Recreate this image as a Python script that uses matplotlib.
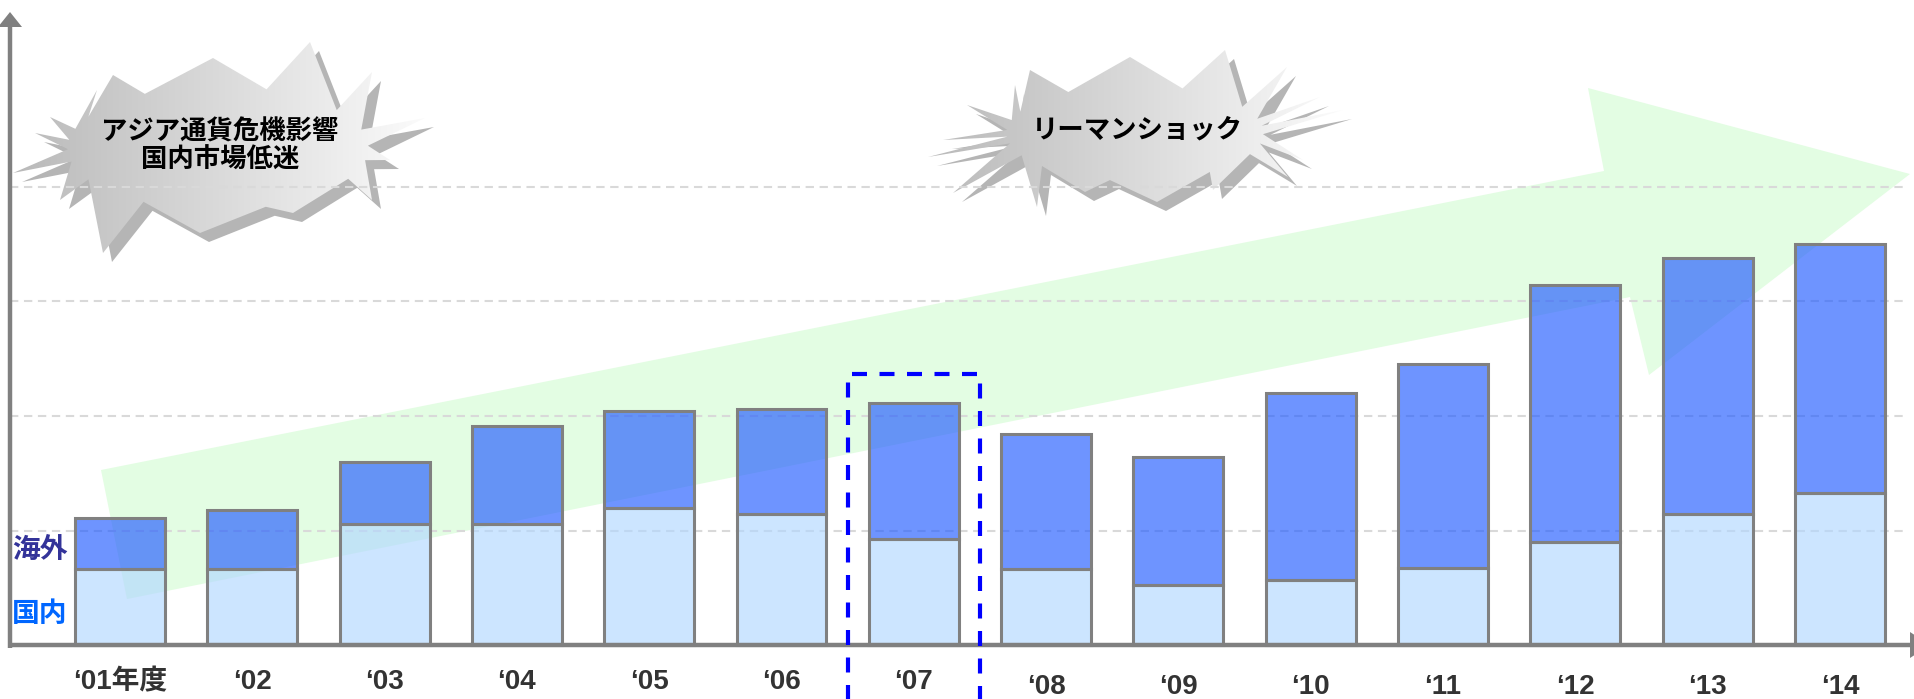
import numpy as np
import matplotlib.pyplot as plt
import matplotlib.colors as mcolors
from matplotlib.patches import Polygon
from matplotlib.colors import LinearSegmentedColormap

# データ（目盛1つ = 1単位）
years = ["‘01年度", "‘02", "‘03", "‘04", "‘05", "‘06", "‘07",
         "‘08", "‘09", "‘10", "‘11", "‘12", "‘13", "‘14"]
domestic = [0.66, 0.66, 1.06, 1.06, 1.20, 1.14, 0.93,
            0.66, 0.52, 0.57, 0.67, 0.90, 1.14, 1.33]
total = [1.11, 1.18, 1.60, 1.91, 2.04, 2.06, 2.11,
         1.84, 1.64, 2.20, 2.45, 3.14, 3.38, 3.50]
overseas = [t - d for t, d in zip(total, domestic)]
highlight = 6   # '07 を点線で囲む

# 画面上のレイアウト（ピクセル）
W, H = 1915, 699
X0, PX = 120, 132.3     # 1本目の中心と間隔
Y0, PY = 645, 114.5     # 軸の位置と1単位の高さ


def d(px, py):
    return (px - X0) / PX, (Y0 - py) / PY


def burst(tips, cx, cy, a, b):
    tips = sorted(tips, key=lambda p: np.arctan2(p[1] - cy, p[0] - cx))
    pts = []
    for k in range(len(tips)):
        p, q = tips[k], tips[(k + 1) % len(tips)]
        t1 = np.arctan2(p[1] - cy, p[0] - cx)
        t2 = np.arctan2(q[1] - cy, q[0] - cx)
        if t2 < t1:
            t2 += 2 * np.pi
        tm = (t1 + t2) / 2
        pts.append(d(*p))
        pts.append(d(cx + a * np.cos(tm), cy + b * np.sin(tm)))
    return pts


fig = plt.figure(figsize=(W / 100, H / 100), dpi=100)
ax = fig.add_axes([0, 0, 1, 1])
ax.set_axis_off()
xl = (d(0, 0)[0], d(W, 0)[0])
yl = (d(0, H)[1], d(0, 0)[1])

cjk = ['Noto Sans CJK JP', 'DejaVu Sans']
gray_cmap = LinearSegmentedColormap.from_list('g', ['#b9b9b9', '#fbfbfb'])

# 爆発マーク
bursts = [
    dict(tips=[(113, 75), (213, 58), (310, 42), (372, 72), (425, 118), (390, 160),
               (372, 200), (293, 213), (200, 233), (103, 253), (60, 200), (13, 173),
               (35, 133), (50, 117), (97, 90)],
         c=(218, 148), ab=(150, 62),
         text="アジア通貨危機影響\n国内市場低迷", tpos=(220, 146)),
    dict(tips=[(1015, 85), (1030, 70), (1130, 57), (1225, 50), (1287, 67), (1320, 97),
               (1343, 110), (1303, 160), (1288, 177), (1213, 190), (1157, 202),
               (1085, 192), (1037, 207), (953, 193), (928, 157), (943, 140), (967, 105)],
         c=(1135, 133), ab=(128, 48),
         text="リーマンショック", tpos=(1137, 130)),
]
for b in bursts:
    cx, cy = b['c']
    sh = [(x + 9, y + 9) for x, y in b['tips']]
    ax.add_patch(Polygon(burst(sh, cx + 9, cy + 9, *b['ab']), closed=True,
                         facecolor='#b5b5b5', edgecolor='none', zorder=2))
    poly = Polygon(burst(b['tips'], cx, cy, *b['ab']), closed=True,
                   facecolor='none', edgecolor='none', zorder=2)
    ax.add_patch(poly)
    xs = [p[0] for p in b['tips']]
    ys = [p[1] for p in b['tips']]
    ex0, ey0 = d(min(xs), max(ys))
    ex1, ey1 = d(max(xs), min(ys))
    im = ax.imshow(np.linspace(0, 1, 256).reshape(1, -1), cmap=gray_cmap,
                   extent=[ex0, ex1, ey0, ey1], aspect='auto', zorder=2.1)
    im.set_clip_path(poly)
    ax.text(*d(*b['tpos']), b['text'], ha='center', va='center', fontsize=19,
            fontweight='bold', family=cjk, linespacing=1.05, zorder=8)

# 成長の矢印（棒の後ろ）
arrow_px = [(101, 470), (1604, 171), (1588, 88), (1910, 174),
            (1649, 375), (1630, 297), (127, 599)]
ax.add_patch(Polygon([d(*p) for p in arrow_px], closed=True,
                     facecolor='#e3fde3', edgecolor='none', zorder=1.5))

# 目盛線
for gy in [1, 2, 3, 4]:
    ax.plot([d(10, 0)[0], d(1905, 0)[0]], [gy, gy], color='#d9d9d9', lw=1.5,
            dashes=(4, 2.7), zorder=2.5)

# 棒グラフ（半透明）
x = np.arange(len(years))
ax.bar(x, domestic, width=0.68, color=mcolors.to_rgba('#b1d7ff', 0.65),
       edgecolor='#808080', linewidth=2.2, zorder=3)
ax.bar(x, overseas, width=0.68, bottom=domestic,
       color=mcolors.to_rgba('#215bff', 0.65),
       edgecolor='#808080', linewidth=2.2, zorder=3)

# 軸と矢印
ax.plot([d(10, 0)[0], d(1912, 0)[0]], [0, 0], color='#808080', lw=3.2,
        solid_capstyle='butt', zorder=6)
ax.plot([d(10, 0)[0]] * 2, [d(0, 648)[1], d(0, 26)[1]], color='#808080', lw=3.2,
        solid_capstyle='butt', zorder=6)
ax.add_patch(Polygon([d(10, 12), d(-2, 27), d(22, 27)], closed=True,
                     facecolor='#808080', edgecolor='none', zorder=6))
ax.add_patch(Polygon([d(1910, 632), d(1910, 658), d(1930, 645)], closed=True,
                     facecolor='#808080', edgecolor='none', zorder=6, clip_on=False))

# 年度ラベル
for i, lab in enumerate(years):
    ly = 682 if i <= highlight else 687
    ax.text(i, d(0, ly)[1], lab, ha='center', va='center', fontsize=20,
            fontweight='bold', color='#333333',
            family=['Liberation Sans', 'Noto Sans CJK JP'], zorder=8)

# 凡例代わりの文字
ax.text(*d(40, 550), "海外", ha='center', va='center', fontsize=20,
        fontweight='bold', color='#333399', family=cjk, zorder=8)
ax.text(*d(40, 614), "国内", ha='center', va='center', fontsize=20,
        fontweight='bold', color='#0066ff', family=cjk, zorder=8)

# '07 の点線枠
bx0, bx1 = highlight - 0.5, highlight + 0.5
btop = d(0, 374)[1]
ax.plot([bx0, bx0, bx1, bx1], [yl[0] - 0.1, btop, btop, yl[0] - 0.1],
        color='#0000ff', lw=3, dashes=(3.6, 3.0), zorder=7)

ax.set_xlim(*xl)
ax.set_ylim(*yl)
fig.savefig('out.png', dpi=100)
